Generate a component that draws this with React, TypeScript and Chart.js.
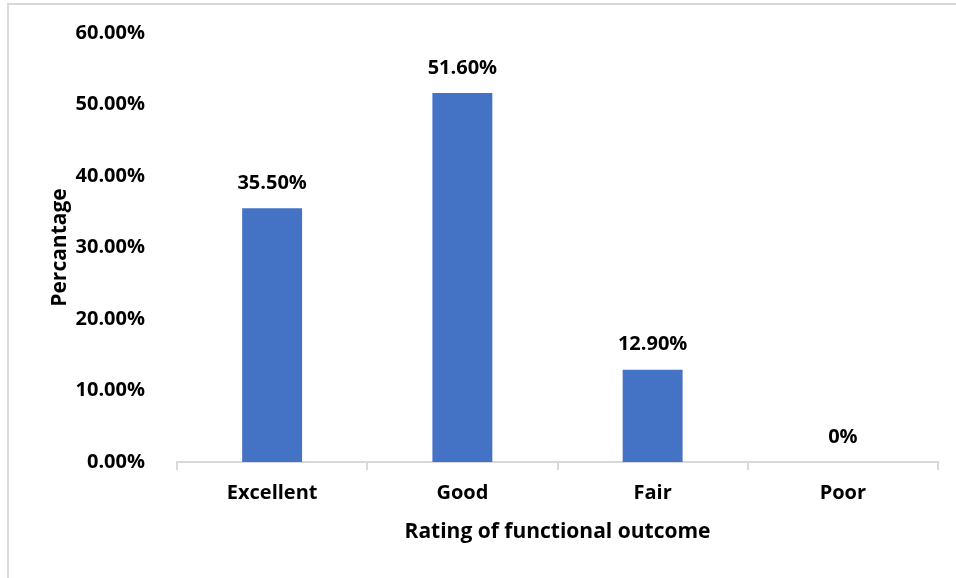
import React, { useEffect, useRef } from "react";
import { Chart, registerables } from "chart.js";

Chart.register(...registerables);

const categories = ["Excellent", "Good", "Fair", "Poor"];
const values = [35.5, 51.6, 12.9, 0];
const valueLabels = ["35.50%", "51.60%", "12.90%", "0%"];
const yTicks = [0, 10, 20, 30, 40, 50, 60];

const FONT = "'Open Sans', 'Liberation Sans', sans-serif";

const dataLabelPlugin = {
  id: "dataLabels",
  afterDatasetsDraw(chart: any) {
    const ctx = chart.ctx;
    const meta = chart.getDatasetMeta(0);
    ctx.save();
    ctx.font = `bold 20px ${FONT}`;
    ctx.fillStyle = "#000";
    ctx.textAlign = "center";
    ctx.textBaseline = "middle";
    meta.data.forEach((el: any, i: number) => {
      ctx.fillText(valueLabels[i], el.x, el.y - 25);
    });
    ctx.restore();
  },
};

export default function App() {
  const ref = useRef<HTMLCanvasElement | null>(null);
  useEffect(() => {
    if (!ref.current) return;
    const chart = new Chart(ref.current, {
      type: "bar",
      data: {
        labels: categories,
        datasets: [
          {
            data: values,
            backgroundColor: "#4472C4",
            categoryPercentage: 1,
            barPercentage: 0.315,
          },
        ],
      },
      plugins: [dataLabelPlugin],
      options: {
        animation: false,
        responsive: false,
        maintainAspectRatio: false,
        layout: { padding: { top: 28, right: 18, left: 0, bottom: 0 } },
        plugins: { legend: { display: false }, tooltip: { enabled: false } },
        scales: {
          x: {
            afterFit(s: any) {
              s.height = 116;
              s.paddingLeft = 0;
              s.paddingRight = 0;
            },
            grid: {
              display: true,
              drawOnChartArea: false,
              drawTicks: true,
              tickLength: 8,
              color: "#d9d9d9",
              lineWidth: 2,
            },
            border: { display: true, color: "#d9d9d9", width: 2 },
            ticks: {
              color: "#000",
              padding: 11,
              font: { family: FONT, size: 20, weight: "bold" },
            },
            title: {
              display: true,
              text: "Rating of functional outcome",
              color: "#000",
              padding: { top: 0, bottom: 33 },
              font: { family: FONT, size: 21, weight: "bold" },
            },
          },
          y: {
            min: 0,
            max: 60,
            afterFit(s: any) {
              s.width = 168;
              s.paddingTop = 0;
              s.paddingBottom = 0;
            },
            afterBuildTicks(s: any) {
              s.ticks = yTicks.map((v) => ({ value: v }));
            },
            grid: { display: false },
            border: { display: false },
            ticks: {
              color: "#000",
              padding: 24,
              font: { family: FONT, size: 20, weight: "bold" },
              callback: (v: any) => Number(v).toFixed(2) + "%",
            },
            title: {
              display: true,
              text: "Percantage",
              color: "#000",
              padding: { top: 38, bottom: 0 },
              font: { family: FONT, size: 21, weight: "bold" },
            },
          },
        },
      },
    });
    return () => chart.destroy();
  }, []);
  return (
    <div
      style={{
        position: "absolute",
        left: 7,
        top: 3,
        borderLeft: "2px solid #d9d9d9",
        borderTop: "2px solid #d9d9d9",
        width: 947,
        height: 573,
      }}
    >
      <canvas ref={ref} width={947} height={573} style={{ display: "block", width: 947, height: 573 }} />
    </div>
  );
}
